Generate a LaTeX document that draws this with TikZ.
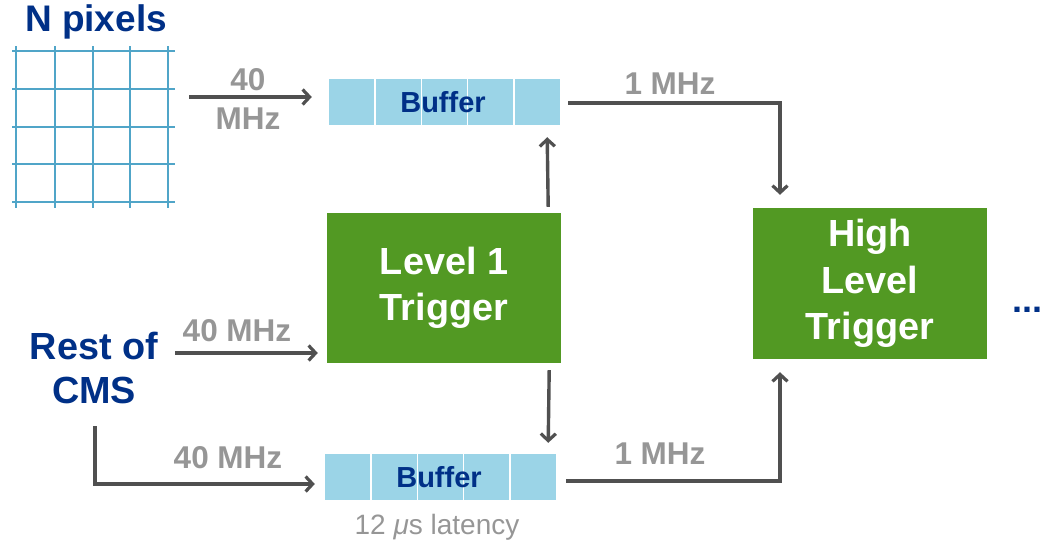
\documentclass[tikz,border=0pt]{standalone}
\usepackage{fontspec}
\setmainfont{Liberation Sans}
\usetikzlibrary{arrows.meta,calc}
\definecolor{cmsblue}{RGB}{0,48,135}
\definecolor{trgreen}{RGB}{82,153,35}
\definecolor{bufblue}{RGB}{155,212,231}
\definecolor{gridblue}{RGB}{80,165,200}
\definecolor{ratecol}{RGB}{150,150,150}
\definecolor{flowcol}{RGB}{80,80,80}
\tikzset{
  flow/.style={draw=flowcol, line width=3.4pt, -{Straight Barb[length=7pt,width=15pt,line width=3.2pt]}},
  bufbox/.style={fill=bufblue, draw=none, minimum width=231pt, minimum height=46pt, inner sep=0pt},
  buftext/.style={text=cmsblue, font=\bfseries\fontsize{29}{34}\selectfont},
  trigbox/.style={fill=trgreen, draw=none, minimum width=234pt, inner sep=0pt, align=center,
    text=white, font=\bfseries\fontsize{37.8}{46.5}\selectfont},
  title/.style={text=cmsblue, align=center, inner sep=0pt, font=\bfseries\fontsize{37.8}{44}\selectfont},
  rate/.style={text=ratecol, align=center, inner sep=0pt, font=\bfseries\fontsize{31.5}{39}\selectfont},
}
\begin{document}
\begin{tikzpicture}[x=1pt,y=-1pt]
\useasboundingbox (0,0) rectangle (1048,542);

% pixel matrix
\node (npx) [title, font=\bfseries\fontsize{37}{44}\selectfont] at (96,22) {N pixels};
\node (grid) [minimum width=163pt, minimum height=162pt, inner sep=0pt] at (93.5,127) {};
\foreach \gx in {16,55,93,130,168}
  \draw[gridblue, line width=2pt] (\gx,46) -- (\gx,208);
\foreach \gy in {51,89,127,164,202}
  \draw[gridblue, line width=2pt] (12,\gy) -- (175,\gy);

% buffers
\node (buf1) [bufbox] at (444.5,102) {};
\node (buf2) [bufbox] at (440.5,477) {};
\foreach \b in {buf1,buf2}
  \foreach \k in {1,2,3,4}
    \draw[white, line width=1.4pt] ($(\b.north west)!\k/5!(\b.north east)$) -- ($(\b.south west)!\k/5!(\b.south east)$);
\node (buf1t) [buftext] at (443,102) {Buffer};
\node (buf2t) [buftext] at (439,477) {Buffer};
\node (lat) [text=ratecol, inner sep=0pt, font=\fontsize{28}{32}\selectfont] at (437,527) {12 {\itshape μ}s latency};

% trigger stages
\node (l1) [trigbox, minimum height=150pt] at (444,288) {Level 1\\Trigger};
\node (hlt) [trigbox, minimum height=151pt] at (870,283.5) {High\\Level\\Trigger};
\node (more) [text=cmsblue, inner sep=0pt, font=\bfseries\fontsize{36}{40}\selectfont] at (1027,310) {...};

% rest of the detector
\node (rest) [title] at (94,368) {Rest of\\CMS};

% data flow
\coordinate (gout) at (189,97);
\coordinate (top) at (780,103);
\coordinate (bot) at (780,481);
\coordinate (corner) at (95,484);
\draw[flow] (gout) -- ([xshift=-17pt]gout -| buf1.west);
\draw[flow] ([xshift=8pt]buf1.east |- top) -- (top) -- ([yshift=13pt]hlt.north -| top);
\draw[flow] ([xshift=-13pt,yshift=6pt]l1.north east) -- ([xshift=-13pt,yshift=-12pt]buf1.south east);
\draw[flow] ([xshift=-12pt,yshift=-7pt]l1.south east) -- ([xshift=-8pt,yshift=11pt]buf2.north east);
\draw[flow] ([xshift=10pt]buf2.east |- bot) -- (bot) -- ([yshift=-13pt]hlt.south -| bot);
\draw[flow] (175,353) -- ([xshift=-9pt]l1.west |- 0,353);
\draw[flow] (95,426) -- (corner) -- ([xshift=-10pt]buf2.west |- corner);

% rates
\node[rate] at (248,99) {40\\MHz};
\node[rate] at (237,331) {40 MHz};
\node[rate] at (228,458) {40 MHz};
\node[rate] at (670,84) {1 MHz};
\node[rate] at (660,454) {1 MHz};
\end{tikzpicture}
\end{document}
